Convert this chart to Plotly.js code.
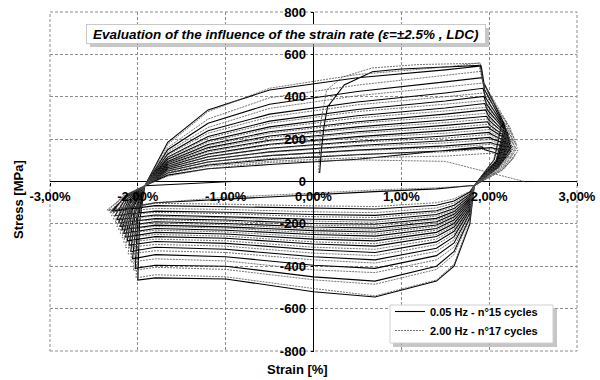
<!DOCTYPE html>
<html>
<head>
<meta charset="utf-8">
<script src="https://cdn.plot.ly/plotly-3.0.1.min.js"></script>
<style>html,body{margin:0;padding:0;background:#fff;}#chart{width:600px;height:380px;}</style>
</head>
<body>
<div id="chart"></div>
<script>
// ---------------- DATA (strain in %, stress in MPa) ----------------
const xTickVals = [-3, -2, -1, 0, 1, 2, 3];
const xTickText = ['-3,00%', '-2,00%', '-1,00%', '0,00%', '1,00%', '2,00%', '3,00%'];
const yTickVals = [-800, -600, -400, -200, 0, 200, 400, 600, 800];
const yTickText = ['-800', '-600', '-400', '-200', '0', '200', '400', '600', '800'];

const seriesNames = ['0.05 Hz - n°15 cycles', '2.00 Hz - n°17 cycles'];

// common sampling strains of the branches
const upStrain = [-1.66, -1.2, -0.5, 0.5, 1.5];          // tension-going branch
const loStrain = [1.78, 1.6, 1.4, 0.7, 0, -1.0, -1.8];    // compression-going branch
const leftConv = [-1.92, -20];
const rightConv = [1.83, -20];

// ---- 0.05 Hz (solid) ----
const sInitX = [0.07, 0.09, 0.12, 0.16, 0.35, 0.67, 1.0, 1.5];
const sInitY = [40, 150, 260, 352, 456, 518, 531, 540];
const sUp = [
  [185, 338, 432, 490, 527],
  [150, 275, 365, 425, 470],
  [130, 240, 318, 375, 418],
  [115, 212, 285, 340, 380],
  [105, 192, 258, 310, 347],
  [95, 175, 235, 282, 318],
  [88, 160, 215, 258, 290],
  [80, 145, 195, 235, 265],
  [72, 130, 176, 212, 240],
  [65, 117, 157, 190, 215],
  [58, 104, 140, 170, 192],
  [50, 92, 122, 148, 168],
  [40, 78, 104, 126, 145],
  [30, 60, 80, 105, 145]
];
const sPkX = [1.90, 1.91, 1.92, 1.93, 1.94, 1.95, 1.96, 1.97, 1.98, 1.99, 2.00, 2.01, 2.02, 2.03, 1.92];
const sPkY = [548, 545, 490, 440, 402, 368, 338, 308, 282, 258, 232, 208, 184, 160, 164];
const sKnX = [1.93, 1.94, 1.95, 1.96, 1.97, 1.98, 1.99, 2.00, 2.01, 2.02, 2.03, 2.04, 2.05, 2.06, 1.95];
const sKnY = [470, 465, 430, 395, 365, 338, 312, 288, 265, 245, 222, 200, 178, 155, 150];
const sBgX = [2.15, 2.18, 2.19, 2.20, 2.21, 2.22, 2.22, 2.23, 2.23, 2.24, 2.24, 2.25, 2.25, 2.25, 2.20];
const sBgY = [290, 265, 250, 240, 230, 222, 214, 206, 198, 190, 180, 170, 160, 145, 120];
const sRtX = [2.06, 2.08, 2.08, 2.09, 2.09, 2.10, 2.10, 2.10, 2.10, 2.10, 2.10, 2.10, 2.10, 2.10, 2.05];
const sRtY = [105, 100, 98, 96, 94, 92, 90, 88, 86, 84, 80, 76, 72, 66, 55];
const sLo = [
  [-200, -400, -470, -545, -520, -460, -455],
  [-170, -330, -400, -470, -450, -400, -395],
  [-150, -290, -350, -410, -395, -355, -345],
  [-135, -260, -315, -370, -355, -320, -310],
  [-125, -235, -285, -335, -322, -292, -283],
  [-115, -215, -260, -305, -295, -268, -260],
  [-105, -198, -240, -280, -272, -248, -240],
  [-97, -182, -222, -258, -250, -230, -222],
  [-90, -168, -205, -238, -232, -214, -206],
  [-83, -155, -190, -220, -215, -198, -190],
  [-76, -142, -174, -202, -198, -182, -175],
  [-68, -128, -156, -182, -178, -165, -158],
  [-60, -112, -138, -160, -156, -145, -140],
  [-50, -92, -112, -130, -126, -118, -114],
  [-20, -28, -35, -48, -63, -85, -100]
];
const sTpX = [-2.00, -2.03, -2.06, -2.08, -2.10, -2.12, -2.14, -2.16, -2.18, -2.20, -2.22, -2.24, -2.26, -2.28, -2.30];
const sTpY = [-465, -410, -365, -330, -300, -280, -262, -245, -228, -212, -196, -180, -162, -140, -140];
const sLrX = [-1.98, -2.00, -2.01, -2.03, -2.04, -2.06, -2.07, -2.08, -2.09, -2.10, -2.11, -2.12, -2.13, -2.14, -2.15];
const sLrY = [-190, -175, -160, -150, -140, -130, -122, -114, -106, -98, -90, -82, -74, -66, -75];
const sTailX = [-0.92, -0.2, null, 2.4, 2.5];
const sTailY = [0, 0, null, 0, 0];

// ---- 2.00 Hz (dotted) ----
const dInitX = [0.06, 0.07, 0.08, 0.15, 0.33, 0.67, 1.2];
const dInitY = [40, 150, 276, 432, 493, 536, 552];
const dUp = [
  [175, 330, 440, 505, 540],
  [160, 295, 395, 455, 503],
  [140, 255, 345, 405, 446],
  [125, 228, 305, 362, 400],
  [112, 205, 275, 330, 365],
  [100, 186, 250, 300, 333],
  [92, 170, 228, 275, 305],
  [84, 155, 208, 250, 278],
  [76, 140, 190, 228, 252],
  [70, 127, 172, 206, 228],
  [63, 115, 155, 185, 205],
  [56, 103, 138, 165, 182],
  [50, 92, 122, 146, 160],
  [44, 81, 108, 128, 140],
  [38, 72, 96, 112, 120],
  [25, 60, 90, 102, 95]
];
const dPkX = [1.88, 1.90, 1.91, 1.93, 1.94, 1.95, 1.96, 1.97, 1.98, 1.99, 2.00, 2.01, 2.02, 2.03, 2.04, 2.05];
const dPkY = [558, 560, 520, 465, 418, 382, 350, 322, 295, 270, 245, 222, 198, 176, 155, 134];
const dKnX = [1.92, 1.93, 1.94, 1.96, 1.97, 1.98, 1.99, 2.00, 2.01, 2.02, 2.03, 2.04, 2.05, 2.06, 2.07, 2.08];
const dKnY = [480, 470, 440, 405, 372, 345, 320, 296, 273, 252, 230, 210, 188, 168, 148, 128];
const dBgX = [2.15, 2.20, 2.22, 2.24, 2.25, 2.26, 2.27, 2.28, 2.29, 2.30, 2.31, 2.32, 2.32, 2.33, 2.30, 2.28];
const dBgY = [300, 280, 265, 255, 245, 235, 225, 215, 205, 195, 185, 175, 160, 145, 125, 110];
const dRtX = [2.05, 2.08, 2.10, 2.11, 2.12, 2.13, 2.14, 2.15, 2.16, 2.17, 2.17, 2.18, 2.18, 2.18, 2.16, 2.14];
const dRtY = [100, 98, 96, 95, 94, 92, 90, 88, 86, 84, 80, 76, 72, 66, 58, 50];
const dLo = [
  [-190, -390, -465, -540, -505, -450, -440],
  [-175, -345, -415, -485, -464, -415, -405],
  [-160, -310, -370, -430, -417, -375, -365],
  [-145, -275, -330, -385, -370, -335, -327],
  [-130, -248, -298, -350, -338, -305, -297],
  [-120, -226, -272, -320, -310, -280, -272],
  [-110, -207, -250, -293, -285, -258, -250],
  [-102, -190, -230, -270, -262, -238, -230],
  [-94, -175, -212, -248, -242, -220, -212],
  [-87, -162, -196, -230, -224, -204, -196],
  [-80, -148, -180, -211, -206, -188, -180],
  [-72, -134, -163, -192, -187, -171, -164],
  [-64, -118, -145, -170, -166, -152, -146],
  [-56, -102, -125, -147, -143, -132, -127],
  [-46, -82, -100, -118, -115, -107, -103],
  [-20, -25, -30, -40, -54, -75, -100]
];
const dTpX = [-2.02, -2.05, -2.08, -2.11, -2.14, -2.16, -2.18, -2.20, -2.22, -2.24, -2.26, -2.28, -2.30, -2.32, -2.34, -2.35];
const dTpY = [-455, -420, -380, -342, -312, -288, -266, -246, -228, -212, -195, -178, -162, -148, -138, -134];
const dLrX = [-1.99, -2.02, -2.04, -2.06, -2.08, -2.10, -2.11, -2.12, -2.13, -2.14, -2.15, -2.16, -2.17, -2.18, -2.20, -2.20];
const dLrY = [-185, -170, -158, -146, -136, -126, -118, -110, -102, -95, -88, -82, -76, -70, -80, -86];
const dTailX = [2.4];
const dTailY = [0];

// ---------------- BUILD PATHS ----------------
function build(t) {
  const x = [], y = [];
  const push = (a, b) => { x.push(a); y.push(b); };
  t.initX.forEach((v, k) => push(v, t.initY[k]));
  const n = t.pkX.length;
  for (let i = 0; i < n; i++) {
    if (i > 0) {
      push(leftConv[0], leftConv[1]);
      upStrain.forEach((v, k) => push(v, t.up[i - 1][k]));
    }
    push(t.pkX[i], t.pkY[i]);
    push(t.knX[i], t.knY[i]);
    push(t.bgX[i], t.bgY[i]);
    push(t.rtX[i], t.rtY[i]);
    push(rightConv[0], rightConv[1]);
    loStrain.forEach((v, k) => push(v, t.lo[i][k]));
    push(t.tpX[i], t.tpY[i]);
    push(t.lrX[i], t.lrY[i]);
  }
  push(leftConv[0], leftConv[1]);
  for (let r = n - 1; r < t.up.length; r++) {
    upStrain.forEach((v, k) => push(v, t.up[r][k]));
  }
  t.tailX.forEach((v, k) => push(v, t.tailY[k]));
  return {x, y};
}

const solid = build({initX: sInitX, initY: sInitY, up: sUp, pkX: sPkX, pkY: sPkY, knX: sKnX, knY: sKnY,
  bgX: sBgX, bgY: sBgY, rtX: sRtX, rtY: sRtY, lo: sLo, tpX: sTpX, tpY: sTpY, lrX: sLrX, lrY: sLrY,
  tailX: sTailX, tailY: sTailY});
const dotted = build({initX: dInitX, initY: dInitY, up: dUp, pkX: dPkX, pkY: dPkY, knX: dKnX, knY: dKnY,
  bgX: dBgX, bgY: dBgY, rtX: dRtX, rtY: dRtY, lo: dLo, tpX: dTpX, tpY: dTpY, lrX: dLrX, lrY: dLrY,
  tailX: dTailX, tailY: dTailY});

const traces = [
  {x: solid.x, y: solid.y, type: 'scatter', mode: 'lines', name: seriesNames[0],
   line: {color: '#000000', width: 1.1}, connectgaps: false},
  {x: dotted.x, y: dotted.y, type: 'scatter', mode: 'lines', name: seriesNames[1],
   line: {color: '#505050', width: 0.8, dash: '2px,1px'}}
];

// paper helpers (plot area: x 50..577 px, y 12..351 px)
const px = v => (v - 50) / 527;
const py = v => (351 - v) / 339;

const F = 'Liberation Sans, Arial, sans-serif';
const layout = {
  width: 600, height: 380,
  margin: {l: 50, r: 23, t: 12, b: 29},
  paper_bgcolor: '#ffffff', plot_bgcolor: '#ffffff',
  showlegend: true,
  legend: {x: px(390), y: py(297), xanchor: 'left', yanchor: 'top', bgcolor: 'rgba(0,0,0,0)',
           borderwidth: 0, tracegroupgap: 2,
           font: {family: F, size: 11, color: '#000', weight: 'bold'}},
  xaxis: {range: [-3, 3], tickvals: xTickVals, ticktext: xTickText, anchor: 'free', position: 0.5,
          showgrid: true, gridcolor: '#8c8c8c', griddash: '3px,2px', gridwidth: 1,
          zeroline: true, zerolinecolor: '#000', zerolinewidth: 1, showline: false,
          ticks: 'outside', ticklen: 3, tickcolor: '#000',
          tickfont: {family: F, size: 13, color: '#000', weight: 'bold'}, fixedrange: true},
  yaxis: {range: [-800, 800], tickvals: yTickVals, ticktext: yTickText, anchor: 'free', position: 0.5,
          showgrid: true, gridcolor: '#8c8c8c', griddash: '3px,2px', gridwidth: 1,
          zeroline: true, zerolinecolor: '#000', zerolinewidth: 1, showline: false,
          ticks: 'outside', ticklen: 3, tickcolor: '#000', ticklabelstandoff: 2,
          tickfont: {family: F, size: 13, color: '#000', weight: 'bold'}, fixedrange: true},
  shapes: [
    // plot frame (dashed)
    {type: 'rect', xref: 'paper', yref: 'paper', x0: 0, x1: 1, y0: 0, y1: 1,
     line: {color: '#8c8c8c', width: 1, dash: '3px,2px'}, layer: 'below'},
    // title box shadow
    {type: 'rect', xref: 'paper', yref: 'paper', x0: px(90), x1: px(489), y0: py(47), y1: py(28),
     fillcolor: '#a0a0a0', line: {width: 0}, opacity: 0.6, layer: 'above'},
    // legend shadow + box
    {type: 'rect', xref: 'paper', yref: 'paper', x0: px(393), x1: px(557), y0: py(347), y1: py(308),
     fillcolor: '#a0a0a0', line: {width: 0}, opacity: 0.6, layer: 'above'},
    {type: 'rect', xref: 'paper', yref: 'paper', x0: px(390), x1: px(553), y0: py(343), y1: py(305),
     fillcolor: '#ffffff', line: {width: 1, color: '#d0d0d0'}, layer: 'above'}
  ],
  annotations: [
    {text: 'Evaluation of the influence of the strain rate (ε=±2.5% , LDC)',
     xref: 'paper', yref: 'paper', x: px(286), y: py(34), xanchor: 'center', yanchor: 'middle',
     showarrow: false, bgcolor: '#ffffff', bordercolor: '#c8c8c8', borderwidth: 1, borderpad: 1,
     width: 396, height: 16,
     font: {family: F, size: 13.5, color: '#000', weight: 'bold', style: 'italic'}},
    {text: 'Strain [%]', xref: 'paper', yref: 'paper', x: px(297), y: py(369),
     xanchor: 'center', yanchor: 'middle', showarrow: false,
     font: {family: F, size: 13, color: '#000', weight: 'bold'}},
    {text: 'Stress [MPa]', xref: 'paper', yref: 'paper', x: px(18), y: py(200), textangle: -90,
     xanchor: 'center', yanchor: 'middle', showarrow: false,
     font: {family: F, size: 13, color: '#000', weight: 'bold'}}
  ]
};

Plotly.newPlot('chart', traces, layout, {staticPlot: true, displayModeBar: false});
</script>
</body>
</html>
